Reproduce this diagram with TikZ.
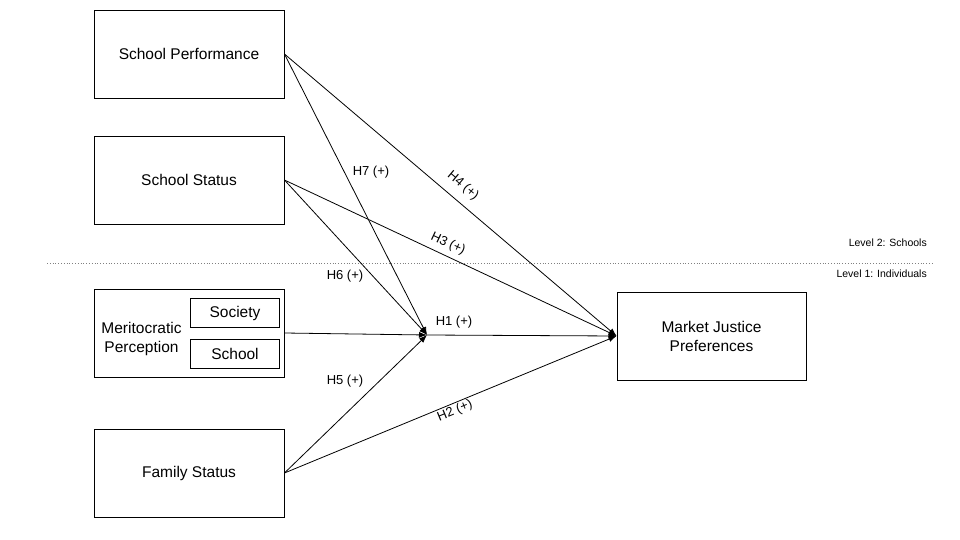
\documentclass[tikz,border=0pt]{standalone}
\usepackage{fontspec}
\setmainfont{Liberation Sans}
\usetikzlibrary{arrows.meta}
\begin{document}
\begin{tikzpicture}[x=1pt,y=-1pt,
  box/.style={draw,line width=0.9pt,minimum width=190pt,minimum height=88pt,inner sep=0pt,font=\fontsize{15.5}{19}\selectfont,align=center},
  subbox/.style={draw,line width=0.9pt,minimum width=89pt,minimum height=29pt,inner sep=0pt,font=\fontsize{15.5}{18}\selectfont},
  arr/.style={line width=0.8pt,-{Latex[length=8pt,width=6pt]}},
  lbl/.style={font=\fontsize{13}{15}\selectfont,inner sep=1pt},
  lvl/.style={font=\fontsize{10.5}{12}\selectfont,anchor=east,inner sep=0pt}]
\useasboundingbox (0,0) rectangle (960,540);
\node[box] (sp) at (189,54) {\raisebox{-1.5pt}{School Performance}};
\node[box] (ss) at (189,180) {\raisebox{-1.5pt}{School Status}};
\node[box] (mp) at (189,333) {};
\node[font=\fontsize{15.5}{19}\selectfont,align=center] (mptxt) at (141.5,339) {Meritocratic\\Perception};
\node[subbox] (soc) at (235,313) {\raisebox{-1pt}{Society}};
\node[subbox] (sch) at (235,354) {\raisebox{-1pt}{School}};
\node[box] (fs) at (189,473) {\raisebox{-1.5pt}{Family Status}};
\node[box,minimum width=189pt] (mj) at (711.5,336) {Market Justice\\Preferences};
\coordinate (j) at (427,335);
\coordinate (dl) at (47,263);
\coordinate (dr) at (932,263);
\draw[dotted,line width=0.8pt,gray] (dl) -- (dr);
\node[lvl] (l2) at (927,243) {Level 2: Schools};
\node[lvl] (l1) at (927,274) {Level 1: Individuals};
\draw[arr] (sp.east) -- (j);
\draw[arr] (sp.east) -- (mj.west);
\draw[arr] (ss.east) -- (j);
\draw[arr] (ss.east) -- (mj.west);
\draw[arr] (mp.east) -- (j);
\draw[arr] (fs.east) -- (j);
\draw[arr] (fs.east) -- (mj.west);
\draw[arr] (j) -- (mj.west);
\node[lbl] (h7) at (371,172) {H7 (+)};
\node[lbl] (h6) at (345,276) {H6 (+)};
\node[lbl] (h1) at (454,322) {H1 (+)};
\node[lbl] (h5) at (345,381) {H5 (+)};
\node[lbl,rotate=-40] (h4) at (463,186) {H4 (+)};
\node[lbl,rotate=-25] (h3) at (448,244) {H3 (+)};
\node[lbl,rotate=22.4] (h2) at (455,411) {H2 (+)};
\end{tikzpicture}
\end{document}
